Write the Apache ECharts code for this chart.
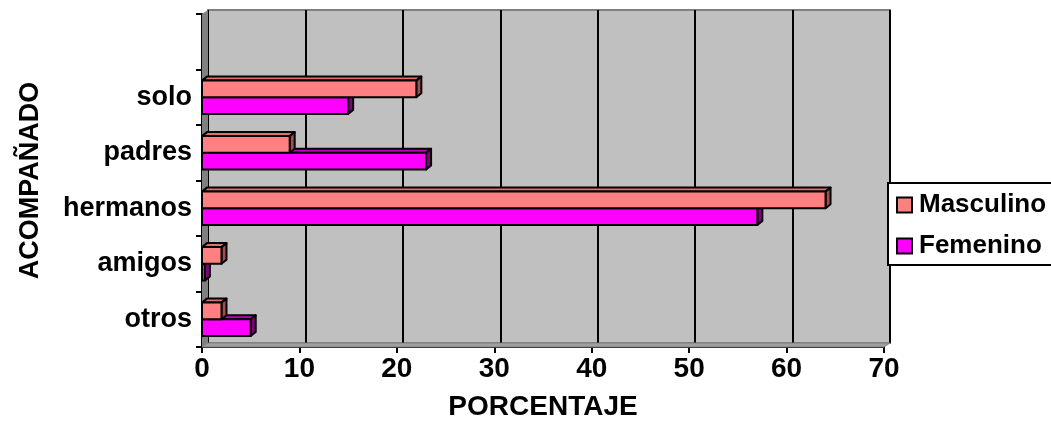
<!DOCTYPE html>
<html>
<head>
<meta charset="utf-8">
<script src="https://cdn.jsdelivr.net/npm/echarts@6/dist/echarts.min.js"></script>
<style>
  html, body { margin: 0; padding: 0; background: #fff; }
  #chart { width: 1051px; height: 440px; }
</style>
</head>
<body>
<div id="chart"></div>
<script>
// Categories, top to bottom (the first band is left empty)
const categories = ['', 'solo', 'padres', 'hermanos', 'amigos', 'otros'];
// Percentages per category
const masculino = [null, 22, 9, 64, 2, 2];
const femenino  = [null, 15, 23, 57, 0.3, 5];
// Value axis
const xMin = 0, xMax = 70, xStep = 10;

const FONT = 'Liberation Sans, Arial, sans-serif';
const DEPTH_X = 6, DEPTH_Y = 4;       // wall depth
const BAR_DX = 5, BAR_DY = 4;         // bar depth

const grid0 = { left: 202, top: 14, width: 682, height: 333 };
const grid1 = { left: grid0.left + DEPTH_X, top: grid0.top - DEPTH_Y, width: grid0.width, height: grid0.height };

function toPairs(arr) {
  return arr.map((v, i) => (v == null ? null : [v, i])).filter(d => d);
}

// Builds a 3D box bar; 'upper' places it in the upper half of the band
function bar3D(upper, front, top, side) {
  return function (params, api) {
    const v = api.value(0), c = api.value(1);
    const p0 = api.coord([0, c]);
    const p1 = api.coord([v, c]);
    const band = api.size([0, 1])[1];
    const h = band * 0.3;
    const y0 = upper ? p0[1] - h : p0[1];
    const x0 = p0[0], x1 = p1[0];
    const lw = { stroke: '#000', lineWidth: 2, lineJoin: 'round' };
    return {
      type: 'group',
      children: [
        { type: 'polygon', shape: { points: [[x0, y0], [x0 + BAR_DX, y0 - BAR_DY], [x1 + BAR_DX, y0 - BAR_DY], [x1, y0]] },
          style: Object.assign({ fill: top }, lw) },
        { type: 'polygon', shape: { points: [[x1, y0], [x1 + BAR_DX, y0 - BAR_DY], [x1 + BAR_DX, y0 + h - BAR_DY], [x1, y0 + h]] },
          style: Object.assign({ fill: side }, lw) },
        { type: 'rect', shape: { x: x0, y: y0, width: x1 - x0, height: h },
          style: Object.assign({ fill: front }, lw) }
      ]
    };
  };
}

// Side wall and floor of the 3D box
function walls(params, api) {
  const cs = params.coordSys;
  const l = cs.x, t = cs.y, r = cs.x + cs.width, b = cs.y + cs.height;
  return {
    type: 'group',
    children: [
      { type: 'polygon', shape: { points: [[l, t], [l + DEPTH_X, t - DEPTH_Y], [l + DEPTH_X, b - DEPTH_Y], [l, b]] },
        style: { fill: '#808080' } },
      { type: 'polygon', shape: { points: [[l, b], [l + DEPTH_X, b - DEPTH_Y], [r + DEPTH_X, b - DEPTH_Y], [r, b]] },
        style: { fill: '#a0a0a0', stroke: '#808080', lineWidth: 1 } }
    ]
  };
}

const chart = echarts.init(document.getElementById('chart'), null, { renderer: 'canvas' });

chart.setOption({
  backgroundColor: '#ffffff',
  animation: false,
  grid: [
    Object.assign({ show: false }, grid0),
    Object.assign({ show: true, backgroundColor: '#c0c0c0', borderColor: '#808080', borderWidth: 2 }, grid1)
  ],
  legend: {
    orient: 'vertical',
    left: 888,
    top: 183,
    data: ['Masculino', 'Femenino'],
    backgroundColor: '#ffffff',
    borderColor: '#000',
    borderWidth: 2,
    padding: [9, 60, 6, 8],
    itemGap: 15,
    itemWidth: 15,
    itemHeight: 15,
    icon: 'rect',
    textStyle: { fontFamily: FONT, fontWeight: 'bold', fontSize: 26, color: '#000', padding: [0, 0, 0, 2] }
  },
  xAxis: [
    {
      gridIndex: 0, type: 'value', min: xMin, max: xMax, interval: xStep,
      name: 'PORCENTAJE', nameLocation: 'middle', nameGap: 46,
      nameTextStyle: { fontFamily: FONT, fontWeight: 'bold', fontSize: 28, color: '#000' },
      axisLine: { show: true, lineStyle: { color: '#000', width: 2 } },
      axisTick: { show: true, length: 6, lineStyle: { color: '#000', width: 2 } },
      axisLabel: { margin: 8, fontFamily: FONT, fontWeight: 'bold', fontSize: 28, color: '#000' },
      splitLine: { show: false }
    },
    {
      gridIndex: 1, type: 'value', min: xMin, max: xMax, interval: xStep,
      axisLine: { show: false }, axisTick: { show: false }, axisLabel: { show: false },
      splitLine: { show: true, lineStyle: { color: '#000', width: 2 } }
    }
  ],
  yAxis: [
    {
      gridIndex: 0, type: 'category', data: categories, inverse: true,
      name: 'ACOMPAÑADO', nameLocation: 'middle', nameGap: 158, nameRotate: 90,
      nameTextStyle: { fontFamily: FONT, fontWeight: 'bold', fontSize: 27, color: '#000' },
      axisLine: { show: true, lineStyle: { color: '#000', width: 2 } },
      axisTick: { show: true, length: 6, lineStyle: { color: '#000', width: 2 } },
      axisLabel: { margin: 10, fontFamily: FONT, fontWeight: 'bold', fontSize: 27, color: '#000' },
      splitLine: { show: false }
    },
    {
      gridIndex: 1, type: 'category', data: categories, inverse: true, show: false
    }
  ],
  series: [
    {
      type: 'custom', xAxisIndex: 0, yAxisIndex: 0, z: 1, silent: true,
      data: [[0, 0]], renderItem: walls
    },
    {
      name: 'Masculino', type: 'custom', xAxisIndex: 0, yAxisIndex: 0, z: 4,
      itemStyle: { color: '#ff8080', borderColor: '#000', borderWidth: 2 },
      encode: { x: 0, y: 1 },
      data: toPairs(masculino),
      renderItem: bar3D(true, '#ff8080', '#e07070', '#a05050')
    },
    {
      name: 'Femenino', type: 'custom', xAxisIndex: 0, yAxisIndex: 0, z: 3,
      itemStyle: { color: '#ff00ff', borderColor: '#000', borderWidth: 2 },
      encode: { x: 0, y: 1 },
      data: toPairs(femenino),
      renderItem: bar3D(false, '#ff00ff', '#c000c0', '#800080')
    }
  ]
});
</script>
</body>
</html>
